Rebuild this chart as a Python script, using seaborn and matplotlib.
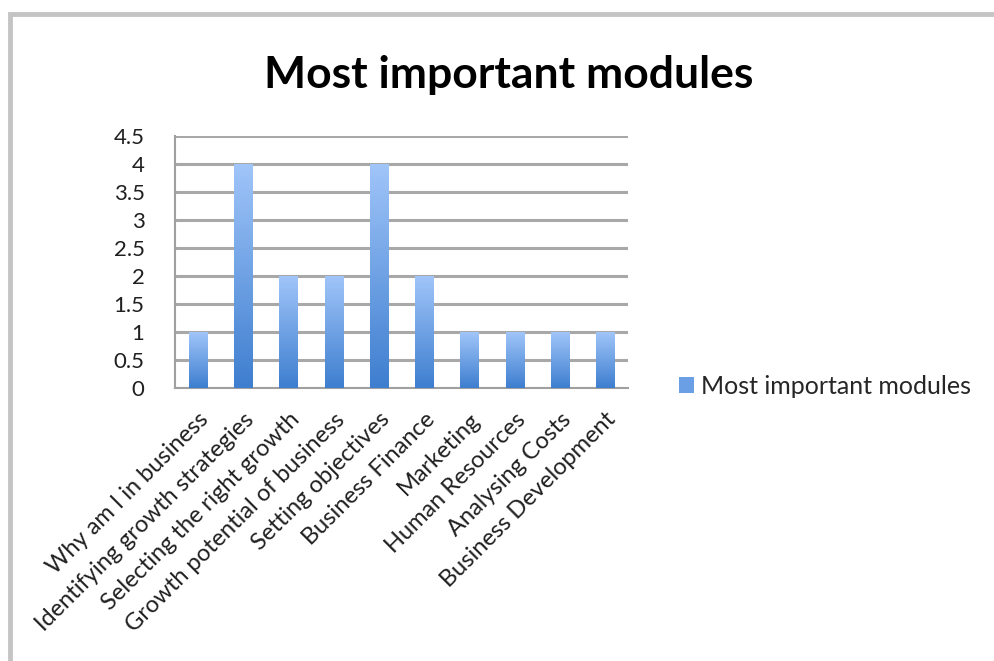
import numpy as np
import pandas as pd
import matplotlib
matplotlib.use("Agg")
import matplotlib.pyplot as plt
from matplotlib.patches import Rectangle, Patch
from matplotlib.colors import LinearSegmentedColormap
import seaborn as sns

# Module names and how many respondents ranked each as most important
modules = [
    "Why am I in business",
    "Identifying growth strategies",
    "Selecting the right growth",
    "Growth potential of business",
    "Setting objectives",
    "Business Finance",
    "Marketing",
    "Human Resources",
    "Analysing Costs",
    "Business Development",
]
votes = [1, 4, 2, 2, 4, 2, 1, 1, 1, 1]
y_ticks = [0, 0.5, 1, 1.5, 2, 2.5, 3, 3.5, 4, 4.5]
y_tick_labels = ["0", "0.5", "1", "1.5", "2", "2.5", "3", "3.5", "4", "4.5"]
series_name = "Most important modules"

sns.set_style("white")
plt.rcParams["font.family"] = ["Lato", "DejaVu Sans"]

df = pd.DataFrame({"module": modules, "votes": votes})

fig = plt.figure(figsize=(9.95, 6.61), dpi=100)
ax = fig.add_axes([0.176, 0.413, 0.455, 0.381])

sns.barplot(data=df, x="module", y="votes", ax=ax, width=0.40,
            color="#6A9FE6", saturation=1, zorder=3)

# Vertical gradient fill on every bar (light at top, deeper blue at base)
grad = LinearSegmentedColormap.from_list("bar_grad", ["#3E7ECF", "#A0C5F9"])
gradient = np.linspace(0, 1, 256).reshape(-1, 1)
for p in ax.patches:
    x0, y0 = p.get_x(), p.get_y()
    w, h = p.get_width(), p.get_height()
    ax.imshow(gradient, cmap=grad, origin="lower", aspect="auto",
              extent=(x0, x0 + w, y0, y0 + h), zorder=3,
              interpolation="bilinear")
    p.set_facecolor("none")
    p.set_edgecolor("none")

ax.set_xlim(-0.5, len(modules) - 0.5)
ax.set_ylim(0, 4.5)

# Horizontal grid lines
ax.set_yticks(y_ticks)
ax.set_yticklabels(y_tick_labels, fontsize=16, color="#202020")
ax.yaxis.grid(True, color="#A8A8A8", linewidth=2.2, zorder=0)
ax.xaxis.grid(False)
ax.set_axisbelow(True)

# Category labels at bar centres, tick marks at category boundaries
ax.set_xticks(range(len(modules)))
ax.set_xticklabels(modules, rotation=45, ha="right", rotation_mode="anchor",
                   fontsize=17, color="#202020")
ax.set_xticks(np.arange(-0.5, len(modules), 1.0), minor=True)
ax.tick_params(axis="x", which="major", length=0, pad=15)
ax.tick_params(axis="x", which="minor", length=5, width=1.5, color="#A0A0A0",
               direction="out")
ax.tick_params(axis="y", which="major", length=9, width=2.2, color="#A8A8A8",
               direction="out", pad=13)

for side in ["top", "right"]:
    ax.spines[side].set_visible(False)
for side in ["left", "bottom"]:
    ax.spines[side].set_color("#A0A0A0")
    ax.spines[side].set_linewidth(1.5)

ax.set_xlabel("")
ax.set_ylabel("")

# Chart title
fig.text(0.511, 0.887, series_name, ha="center", va="center",
         fontsize=32, fontweight="bold", color="#000000")

# Legend on the right
handle = Patch(facecolor="#6A9FE6", edgecolor="none")
fig.legend([handle], [series_name], loc="center left",
           bbox_to_anchor=(0.672, 0.416), frameon=False, fontsize=18,
           handlelength=0.6, handleheight=0.6, handletextpad=0.3,
           borderaxespad=0)

# Chart frame (top and left edges fall within the image)
frame = Rectangle((10 / 995, -0.2), 1.2, 1 - 14 / 661 + 0.2,
                  transform=fig.transFigure, fill=False,
                  edgecolor="#C4C4C4", linewidth=3.5, zorder=0)
fig.patches.append(frame)

fig.savefig("out.png", dpi=100)
